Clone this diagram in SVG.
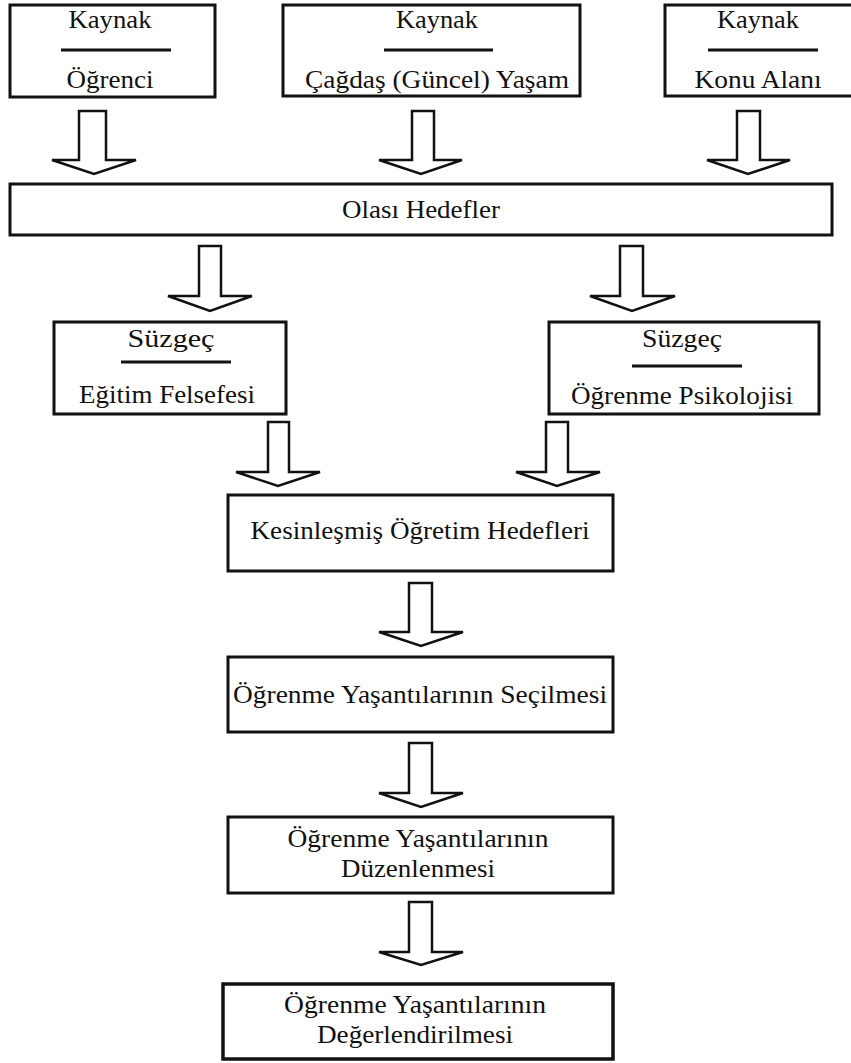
<svg xmlns="http://www.w3.org/2000/svg" width="851" height="1063" viewBox="0 0 851 1063">
  <style>
    .box { fill: #ffffff; stroke: #111111; stroke-width: 3; }
    .rule { stroke: #111111; stroke-width: 3; }
    .arrow { fill: #ffffff; stroke: #111111; stroke-width: 2.5; stroke-linejoin: miter; }
    .t { font-family: 'Liberation Serif', 'Times New Roman', serif; font-size: 25px; fill: #111111; text-anchor: middle; }
  </style>
  <rect width="851" height="1063" fill="#ffffff"/>

  <!-- sources -->
  <g id="kaynak-ogrenci">
    <rect class="box" x="10" y="5" width="205" height="92"/>
    <text class="t" x="110" y="28" textLength="83" lengthAdjust="spacingAndGlyphs">Kaynak</text>
    <line class="rule" x1="61" y1="50" x2="171" y2="50"/>
    <text class="t" x="110" y="88" textLength="87" lengthAdjust="spacingAndGlyphs">Öğrenci</text>
  </g>
  <g id="kaynak-cagdas-yasam">
    <rect class="box" x="283" y="5" width="297" height="91"/>
    <text class="t" x="437" y="28" textLength="82" lengthAdjust="spacingAndGlyphs">Kaynak</text>
    <line class="rule" x1="384" y1="50" x2="493" y2="50"/>
    <text class="t" x="437" y="88" textLength="264" lengthAdjust="spacingAndGlyphs">Çağdaş (Güncel) Yaşam</text>
  </g>
  <g id="kaynak-konu-alani">
    <rect class="box" x="665" y="5" width="200" height="91"/>
    <text class="t" x="758" y="28" textLength="82" lengthAdjust="spacingAndGlyphs">Kaynak</text>
    <line class="rule" x1="708" y1="50" x2="818" y2="50"/>
    <text class="t" x="758" y="88" textLength="127" lengthAdjust="spacingAndGlyphs">Konu Alanı</text>
  </g>

  <!-- possible objectives -->
  <g id="olasi-hedefler">
    <rect class="box" x="10" y="184" width="822" height="51"/>
    <text class="t" x="421" y="218" textLength="158" lengthAdjust="spacingAndGlyphs">Olası Hedefler</text>
  </g>

  <!-- filters -->
  <g id="suzgec-egitim-felsefesi">
    <rect class="box" x="54" y="322" width="232" height="92"/>
    <text class="t" x="171" y="347" textLength="87" lengthAdjust="spacingAndGlyphs">Süzgeç</text>
    <line class="rule" x1="121" y1="362" x2="231" y2="362"/>
    <text class="t" x="167" y="403" textLength="176" lengthAdjust="spacingAndGlyphs">Eğitim Felsefesi</text>
  </g>
  <g id="suzgec-ogrenme-psikolojisi">
    <rect class="box" x="549" y="322" width="270" height="92"/>
    <text class="t" x="682" y="347" textLength="80" lengthAdjust="spacingAndGlyphs">Süzgeç</text>
    <line class="rule" x1="632" y1="366" x2="742" y2="366"/>
    <text class="t" x="682" y="404" textLength="222" lengthAdjust="spacingAndGlyphs">Öğrenme Psikolojisi</text>
  </g>

  <!-- process chain -->
  <g id="kesinlesmis-hedefler">
    <rect class="box" x="228" y="495" width="385" height="76"/>
    <text class="t" x="420" y="539" textLength="339" lengthAdjust="spacingAndGlyphs">Kesinleşmiş Öğretim Hedefleri</text>
  </g>
  <g id="yasantilarin-secilmesi">
    <rect class="box" x="228" y="657" width="385" height="75"/>
    <text class="t" x="420" y="703" textLength="374" lengthAdjust="spacingAndGlyphs">Öğrenme Yaşantılarının Seçilmesi</text>
  </g>
  <g id="yasantilarin-duzenlenmesi">
    <rect class="box" x="228" y="817" width="385" height="76"/>
    <text class="t" x="418" y="847" textLength="261" lengthAdjust="spacingAndGlyphs">Öğrenme Yaşantılarının</text>
    <text class="t" x="418" y="877" textLength="154" lengthAdjust="spacingAndGlyphs">Düzenlenmesi</text>
  </g>
  <g id="yasantilarin-degerlendirilmesi">
    <rect class="box" x="223" y="984" width="390" height="75" style="stroke-width:3.5"/>
    <text class="t" x="415" y="1013" textLength="262" lengthAdjust="spacingAndGlyphs">Öğrenme Yaşantılarının</text>
    <text class="t" x="415" y="1043" textLength="196" lengthAdjust="spacingAndGlyphs">Değerlendirilmesi</text>
  </g>

  <!-- block arrows -->
  <g id="connectors">
    <polygon class="arrow" points="79,111 106,111 106,160 136,160 94,174 52,160 79,160"/>
    <polygon class="arrow" points="412,111 434,111 434,160 462,160 421,174 379,160 412,160"/>
    <polygon class="arrow" points="737,111 760,111 760,160 790,160 748,174 707,160 737,160"/>
    <polygon class="arrow" points="199,246 221,246 221,296 252,296 210,311 168,296 199,296"/>
    <polygon class="arrow" points="620,246 643,246 643,296 675,296 632,311 590,296 620,296"/>
    <polygon class="arrow" points="268,422 289,422 289,472 320,472 278,486 236,472 268,472"/>
    <polygon class="arrow" points="546,422 568,422 568,472 600,472 557,486 516,472 546,472"/>
    <polygon class="arrow" points="409,583 432,583 432,632 463,632 421,646 379,632 409,632"/>
    <polygon class="arrow" points="409,743 432,743 432,793 463,793 421,807 379,793 409,793"/>
    <polygon class="arrow" points="409,902 432,902 432,952 463,952 421,965 379,952 409,952"/>
  </g>
</svg>
